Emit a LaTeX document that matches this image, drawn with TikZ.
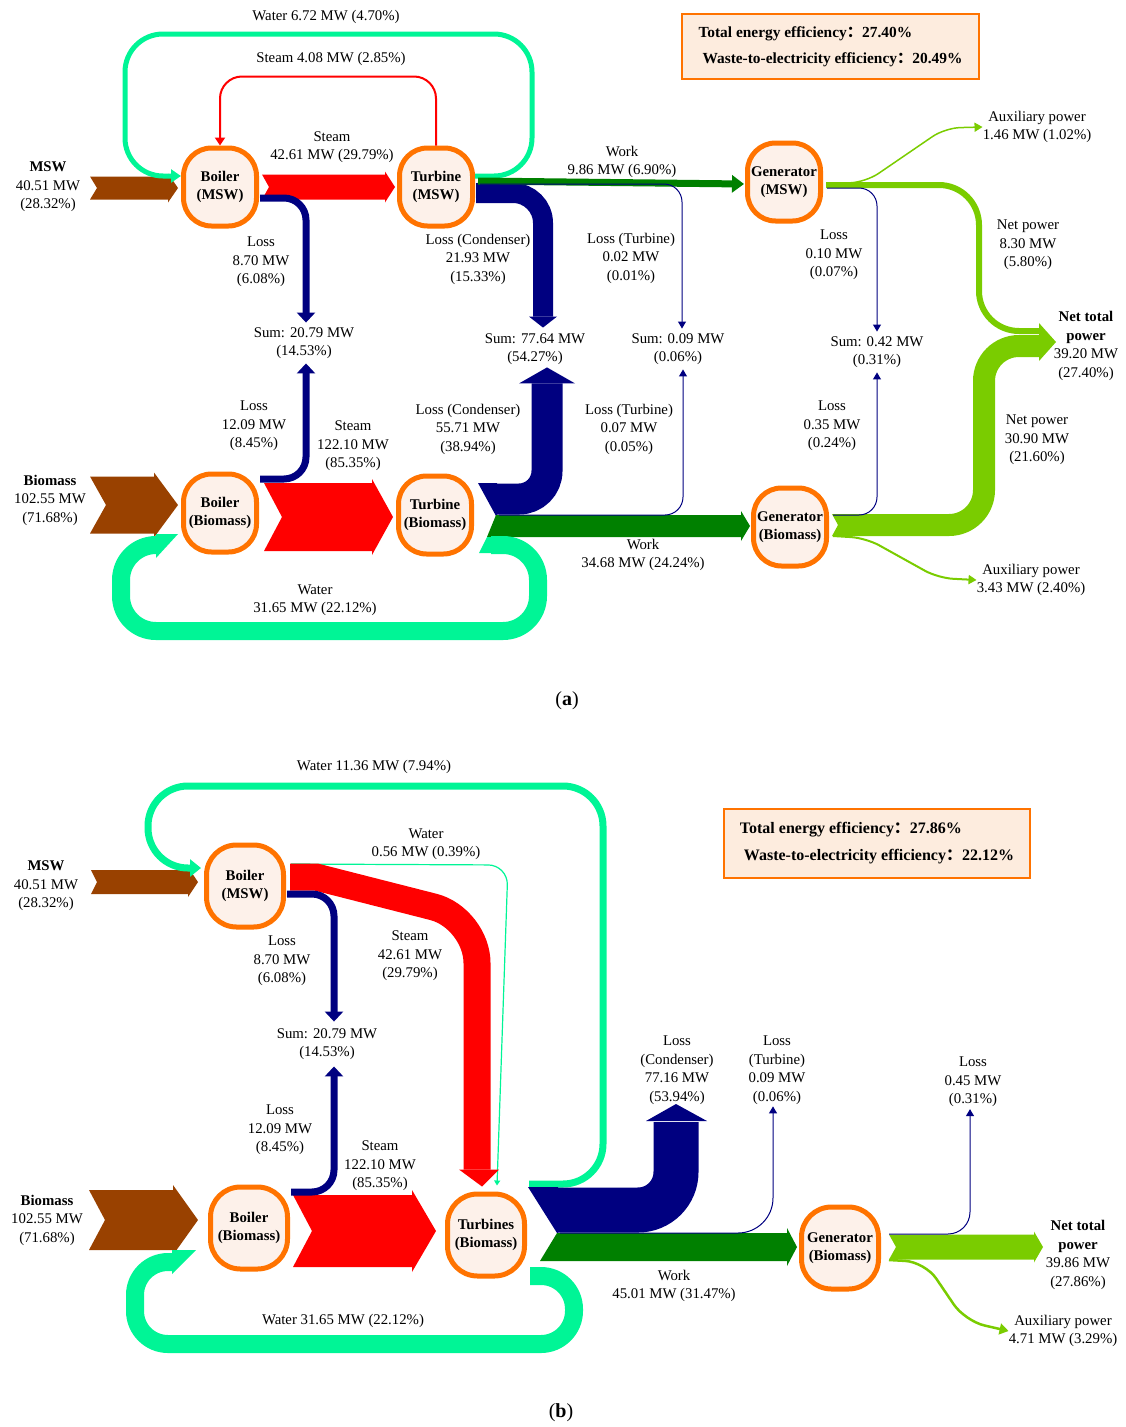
\documentclass[tikz,border=0pt]{standalone}
\usepackage{fontspec}
\setmainfont{Liberation Serif}
\newfontfamily\cjk{Noto Sans CJK SC}
\usetikzlibrary{positioning,calc,arrows.meta}

\definecolor{brownflow}{RGB}{153,65,0}
\definecolor{steamred}{RGB}{255,0,0}
\definecolor{lossnavy}{RGB}{0,0,128}
\definecolor{workgreen}{RGB}{0,128,0}
\definecolor{powergreen}{RGB}{122,204,0}
\definecolor{waterc}{RGB}{0,245,150}
\definecolor{unitorange}{RGB}{255,115,0}
\definecolor{unitfill}{RGB}{253,241,234}
\definecolor{infofill}{RGB}{253,236,222}

\newcommand{\flowfont}{\fontsize{14.8}{18.5}\selectfont}

% straight band: colour, tail, tip, half width, notch, head, barb
\newcommand{\hband}[7]{%
  \fill[#1] let \p1=(#2), \p2=(#3) in
    (\x1,\y1+#4pt) -- (\x2-#6pt,\y1+#4pt) -- (\x2-#6pt,\y1+#4pt+#7pt)
    -- (\x2,\y1) -- (\x2-#6pt,\y1-#4pt-#7pt) -- (\x2-#6pt,\y1-#4pt)
    -- (\x1,\y1-#4pt) -- (\x1+#5pt,\y1) -- cycle;}

\tikzset{
  unit/.style={draw=unitorange, line width=5pt, fill=unitfill, rounded corners=28pt,
    minimum width=73pt, minimum height=78pt, inner sep=1pt, align=center,
    font=\bfseries\fontsize{14.8}{18}\selectfont},
  unitb/.style={unit, minimum width=77pt, minimum height=82pt, rounded corners=30pt},
  lbl/.style={align=center, inner sep=0pt},
  sumlbl/.style={align=center, inner sep=4.5pt},
  infobox/.style={draw=unitorange, line width=2pt, fill=infofill, align=left,
    font=\bfseries\fontsize{15.4}{26}\selectfont},
  thinloss/.style={lossnavy, line width=1pt, rounded corners=18pt, -{Triangle[width=8pt,length=7pt]}},
  lossarrow/.style={lossnavy, line width=7pt, rounded corners=22pt, -{Triangle[width=18pt,length=10pt]}},
}

\begin{document}
\begin{tikzpicture}[x=1pt,y=-1pt,font=\flowfont]
\useasboundingbox (0,0) rectangle (1126,1427);

% ---------------- (a) ----------------
\node [unit] (bm) at (220,187) {Boiler\\(MSW)};
\node [unit] (tm) at (436,187) {Turbine\\(MSW)};
\node [unit] (gm) at (784,182) {Generator\\(MSW)};
\node [unit] (bb) at (220,513) {Boiler\\(Biomass)};
\node [unit] (tb) at (435,515) {Turbine\\(Biomass)};
\node [unit] (gb) at (790,527) {Generator\\(Biomass)};

\node [infobox, minimum width=297pt, minimum height=65pt] (effa) at (830.5,46.5)
  {Total energy efficiency{\cjk：}27.40\%\\\hspace{4pt}Waste-to-electricity efficiency{\cjk：}20.49\%};

% Text Node
\node [lbl] (wa1) at (326,17) {Water 6.72 MW (4.70\%)};
\node [lbl] (sa1) at (331,59) {Steam 4.08 MW (2.85\%)};
\node [lbl] (sa2) at (332,147) {Steam\\42.61 MW (29.79\%)};
\node [lbl] (mswa) at (48,187) {\textbf{MSW}\\40.51 MW\\(28.32\%)};
\node [lbl] (la1) at (261,262) {Loss\\8.70 MW\\(6.08\%)};
\node [lbl] (lca1) at (478,259) {Loss (Condenser)\\21.93 MW\\(15.33\%)};
\node [lbl] (wka1) at (622,162) {Work\\9.86 MW (6.90\%)};
\node [lbl] (lta1) at (631,258) {Loss (Turbine)\\0.02 MW\\(0.01\%)};
\node [lbl] (lga1) at (834,255) {Loss\\0.10 MW\\(0.07\%)};
\node [lbl] (npa1) at (1028,245) {Net power\\8.30 MW\\(5.80\%)};
\node [lbl] (axa1) at (1037,127) {Auxiliary power\\1.46 MW (1.02\%)};
\node [sumlbl] (sa) at (304,343) {Sum: 20.79 MW\\(14.53\%)};
\node [sumlbl] (sb) at (535,349) {Sum: 77.64 MW\\(54.27\%)};
\node [sumlbl] (sc) at (678,349) {Sum: 0.09 MW\\(0.06\%)};
\node [sumlbl] (sd) at (877,352) {Sum: 0.42 MW\\(0.31\%)};
\node [lbl] (nta) at (1086,346) {\textbf{Net total}\\\textbf{power}\\39.20 MW\\(27.40\%)};
\node [lbl] (la2) at (254,426) {Loss\\12.09 MW\\(8.45\%)};
\node [lbl] (sa3) at (353,446) {Steam\\122.10 MW\\(85.35\%)};
\node [lbl] (lca2) at (468,429) {Loss (Condenser)\\55.71 MW\\(38.94\%)};
\node [lbl] (lta2) at (629,429) {Loss (Turbine)\\0.07 MW\\(0.05\%)};
\node [lbl] (lga2) at (832,426) {Loss\\0.35 MW\\(0.24\%)};
\node [lbl] (npa2) at (1037,440) {Net power\\30.90 MW\\(21.60\%)};
\node [lbl] (bioa) at (50,500) {\textbf{Biomass}\\102.55 MW\\(71.68\%)};
\node [lbl] (wka2) at (643,555) {Work\\34.68 MW (24.24\%)};
\node [lbl] (axa2) at (1031,580) {Auxiliary power\\3.43 MW (2.40\%)};
\node [lbl] (wa2) at (315,600) {Water\\31.65 MW (22.12\%)};
\node [lbl, font=\fontsize{20}{24}\selectfont] (capa) at (567,701) {(\textbf{a})};

% inputs and steam
\hband{brownflow}{90,188}{$(bm.west)+(-3,0)$}{11.5}{7}{10}{3}
\hband{steamred}{$(bm.east)+(3,0)$}{$(tm.west)+(-2,0)$}{12.5}{7}{10}{3}
\hband{brownflow}{90,505}{$(bb.west)+(-3,0)$}{28.5}{16}{24}{4}
\hband{steamred}{$(bb.east)+(5,4)$}{$(tb.west)+(-3,0)$}{34}{18}{21}{4}

% loops
\draw [steamred, line width=2pt, rounded corners=22pt, -{Triangle[width=10pt,length=8pt]}]
  (tm.north) -- ++(0,-69) -| (bm.north);
\draw [waterc, line width=5pt, rounded corners=38pt, -{Triangle[width=13pt,length=10pt]}]
  ($(tm.east)+(0,-11)$) -| (532,34) -| (125,176) -- ($(bm.west)+(0,-11)$);

% boiler losses
\draw [lossarrow] ($(bm.east)+(1,11)$) -| ($(sa.north)+(2,0)$);
\draw [lossarrow] ($(bb.east)+(1,-34)$) -| ($(sa.south)+(2,0)$);

% turbine (MSW) outputs
\draw [lossnavy, line width=20pt, rounded corners=30pt] ($(tm.east)+(1,6)$) -| ($(sb.north)+(8,-12)$);
\fill [lossnavy] ($(sb.north)+(-6,-12)$) -- ($(sb.north)+(8,-1)$) -- ($(sb.north)+(22,-12)$) -- cycle;
\draw [workgreen, line width=7pt, -{Triangle[width=17pt,length=12pt]}] ($(tm.east)+(3,-6)$) -- ($(gm.west)+(-1,2)$);
\draw [thinloss] ($(tm.east)+(5,-3)$) -| ($(sc.north)+(4,0)$);

% turbine (Biomass) outputs
\coordinate (tbn) at ($(tb.east)+(22,1)$);
\fill [lossnavy] ($(tbn)+(-18,-33)$) -- ($(tbn)+(1,-33)$) -- ($(tbn)+(1,-1)$) -- (tbn) -- cycle;
\draw [lossnavy, line width=31pt, rounded corners=28pt] ($(tbn)+(0,-17)$) -| ($(sb.south)+(12,14)$);
\fill [lossnavy] ($(sb.south)+(-16,14)$) -- ($(sb.south)+(12,-2)$) -- ($(sb.south)+(40,14)$) -- cycle;
\fill [workgreen] ($(tbn)+(0,-1)$) -- ++(245,0) -- ++(0,-4) -- ($(gb.west)+(-1,-1)$) -- ++(-9,15) -- ++(0,-4) -- ($(tbn)+(-9,21)$) -- cycle;
\draw [thinloss] ($(tbn)+(3,-1)$) -| ($(sc.south)+(5,0)$);
\fill [waterc] ($(tbn)+(-9,21)$) -- ($(tbn)+(-4,21)$) -- ($(tbn)+(-4,37)$) -- ($(tbn)+(-17,37)$) -- cycle;
\draw [waterc, line width=18pt, rounded corners=35pt] ($(tbn)+(-5,29)$) -| (538,631) -| (121,545) -- ($(bb.west)+(-23,32)$);
\fill [waterc] ($(bb.west)+(-25,21)$) -- ($(bb.west)+(-3,21)$) -- ($(bb.west)+(-25,45)$) -- cycle;

% generator outputs
\coordinate (nttip) at (1040,342);
\draw [powergreen, line width=6pt, rounded corners=40pt] ($(gm.east)+(3,3)$) -| ($(nttip)+(-61,-11)$) -- ($(nttip)+(0,-11)$);
\fill [powergreen] ($(gb.east)+(3,-13)$) -- ($(gb.east)+(10,-13)$) -- ($(gb.east)+(10,9)$) -- ($(gb.east)+(3,9)$) -- ($(gb.east)+(9,-2)$) -- cycle;
\draw [powergreen, line width=22pt, rounded corners=35pt] ($(gb.east)+(9,-2)$) -| ($(nttip)+(-56,4)$) -- ($(nttip)+(0,4)$);
\fill [powergreen] ($(nttip)+(-1,-19)$) -- ($(nttip)+(16,0)$) -- ($(nttip)+(-1,19)$) -- cycle;
\draw [powergreen, line width=1.5pt, rounded corners=15pt, -{Triangle[width=9pt,length=8pt]}]
  ($(gm.east)+(4,2)$) -- (866,182) -- (945,128) -- (axa1.west);
\draw [powergreen, line width=2pt, rounded corners=15pt, -{Triangle[width=9pt,length=8pt]}]
  ($(gb.east)+(4,9)$) -- (866,538) -- (938,578) -- (axa2.west);
\draw [thinloss] ($(gm.east)+(4,6)$) -| (sd.north);
\draw [thinloss] ($(gb.east)+(4,-12)$) -| (sd.south);

% ---------------- (b) ----------------
\node [unitb] (bmb) at (245,886) {Boiler\\(MSW)};
\node [unitb] (bbb) at (249,1228) {Boiler\\(Biomass)};
\node [unitb] (tbb) at (486,1235) {Turbines\\(Biomass)};
\node [unitb] (gbb) at (840,1248) {Generator\\(Biomass)};

\node [infobox, minimum width=306pt, minimum height=69pt, font=\bfseries\fontsize{16}{27}\selectfont] (effb) at (877,843.5)
  {Total energy efficiency{\cjk：}27.86\%\\\hspace{4pt}Waste-to-electricity efficiency{\cjk：}22.12\%};

% Text Node
\node [lbl] (wb1) at (374,767) {Water 11.36 MW (7.94\%)};
\node [lbl] (mswb) at (46,886) {\textbf{MSW}\\40.51 MW\\(28.32\%)};
\node [lbl] (wb2) at (426,844) {Water\\0.56 MW (0.39\%)};
\node [lbl] (lb1) at (282,961) {Loss\\8.70 MW\\(6.08\%)};
\node [lbl] (sb1) at (410,956) {Steam\\42.61 MW\\(29.79\%)};
\node [sumlbl] (se) at (327,1044) {Sum: 20.79 MW\\(14.53\%)};
\node [lbl] (lcb) at (677,1070) {Loss\\(Condenser)\\77.16 MW\\(53.94\%)};
\node [lbl] (ltb) at (777,1070) {Loss\\(Turbine)\\0.09 MW\\(0.06\%)};
\node [lbl] (lgb) at (973,1082) {Loss\\0.45 MW\\(0.31\%)};
\node [lbl] (lb2) at (280,1130) {Loss\\12.09 MW\\(8.45\%)};
\node [lbl] (sb2) at (380,1166) {Steam\\122.10 MW\\(85.35\%)};
\node [lbl] (biob) at (47,1220) {\textbf{Biomass}\\102.55 MW\\(71.68\%)};
\node [lbl] (ntb) at (1078,1255) {\textbf{Net total}\\\textbf{power}\\39.86 MW\\(27.86\%)};
\node [lbl] (wkb) at (674,1286) {Work\\45.01 MW (31.47\%)};
\node [lbl] (wb3) at (343,1321) {Water 31.65 MW (22.12\%)};
\node [lbl] (axb) at (1063,1331) {Auxiliary power\\4.71 MW (3.29\%)};
\node [lbl, font=\fontsize{20}{24}\selectfont] (capb) at (561,1413) {(\textbf{b})};

% inputs
\hband{brownflow}{91,882}{$(bmb.west)+(-6,0)$}{12}{6}{10}{3}
\hband{brownflow}{89,1220}{$(bbb.west)+(-10,0)$}{30}{16}{25}{5}
\hband{steamred}{$(bbb.east)+(3,3)$}{$(tbb.west)+(-9,0)$}{36}{19}{24}{5}

% water loops
\draw [waterc, line width=7pt, rounded corners=40pt, -{Triangle[width=17pt,length=11pt]}]
  ($(tbb.east)+(2,-51)$) -| (603,786) -| (148,868) -- ($(bmb.west)+(-3,-18)$);
\draw [waterc, line width=1.2pt, rounded corners=20pt, -{Triangle[width=6pt,length=5pt]}]
  ($(bmb.east)+(5,-22)$) -- (508,865) -- ($(tbb.north)+(11,-6)$);
\draw [waterc, line width=18pt, rounded corners=33pt] ($(tbb.east)+(3,41)$) -| (574,1344) -| (135,1262) -- ($(bbb.west)+(-34,34)$);
\fill [waterc] ($(bbb.west)+(-36,22)$) -- ($(bbb.west)+(-12,22)$) -- ($(bbb.west)+(-36,46)$) -- cycle;

% steam (MSW) down to the turbines
\draw [steamred, line width=27pt] ($(bmb.east)+(4,-9)$) -- ++(26,0) [rounded corners=45pt] -- ++(161,41) -- ($(tbb.north)+(-9,-22)$);
\fill [steamred] ($(tbb.north)+(-27,-22)$) -- ($(tbb.north)+(-4,-5)$) -- ($(tbb.north)+(13,-22)$) -- cycle;

% boiler losses
\draw [lossarrow] ($(bmb.east)+(1,8)$) -| ($(se.north)+(7,-2)$);
\draw [lossarrow] ($(bbb.east)+(1,-36)$) -| ($(se.south)+(7,2)$);

% turbines outputs
\coordinate (tbbn) at ($(tbb.east)+(30,-2)$);
\fill [lossnavy] ($(tbbn)+(-29,-46)$) -- ($(tbbn)+(1,-46)$) -- ($(tbbn)+(1,0)$) -- (tbbn) -- cycle;
\draw [lossnavy, line width=45pt, rounded corners=38pt] ($(tbbn)+(0,-23)$) -| ($(tbbn)+(119,-111)$);
\fill [lossnavy] ($(tbbn)+(89,-112)$) -- ($(tbbn)+(119,-129)$) -- ($(tbbn)+(150,-112)$) -- cycle;
\fill [workgreen] (tbbn) -- ++(230,0) -- ++(0,-5) -- ($(gbb.west)+(-2,-1)$) -- ++(-10,19) -- ++(0,-5) -- ($(tbbn)+(-17,28)$) -- cycle;
\draw [thinloss, rounded corners=35pt] ($(tbbn)+(3,0)$) -| ($(ltb.south)+(-4,2)$);

% generator outputs
\coordinate (ntbtip) at (1043,1247);
\hband{powergreen}{$(gbb.east)+(8,-1)$}{ntbtip}{12.5}{7}{9}{3}
\draw [thinloss, rounded corners=22pt] ($(gbb.east)+(8,-14)$) -| ($(lgb.south)+(-3,2)$);
\draw [powergreen, line width=2.5pt, rounded corners=20pt, -{Triangle[width=11pt,length=9pt]}]
  ($(gbb.east)+(8,12)$) -- (925,1262) -- (965,1321) -- (axb.west);

\end{tikzpicture}
\end{document}
